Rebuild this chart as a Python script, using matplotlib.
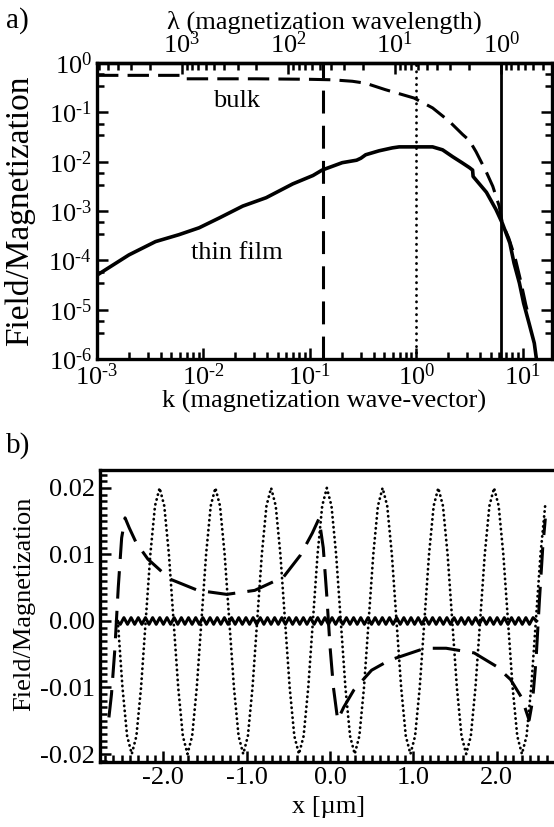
import numpy as np
import matplotlib.pyplot as plt
from matplotlib.ticker import (LogLocator, FixedLocator, FuncFormatter, MultipleLocator,
                               FormatStrFormatter, NullFormatter)

plt.rcParams['font.family'] = ['Liberation Serif', 'DejaVu Serif']
plt.rcParams['mathtext.fontset'] = 'custom'
plt.rcParams['mathtext.rm'] = 'Liberation Serif'
plt.rcParams['mathtext.default'] = 'regular'
plt.rcParams['axes.unicode_minus'] = False

# ---- panel a: field/magnetization spectra (log10 exponents)
thin_logk = [-3.0, -2.70, -2.45, -2.23, -2.04, -1.85, -1.63, -1.41, -1.16, -0.97,
             -0.884, -0.695, -0.56, -0.52, -0.475, -0.35, -0.224, -0.16, 0.154, 0.248,
             0.343, 0.43, 0.50, 0.53, 0.535, 0.66, 0.75, 0.81, 0.88, 0.92,
             0.97, 1.01, 1.06, 1.11, 1.13]
thin_logv = [-4.30, -3.89, -3.62, -3.48, -3.34, -3.14, -2.90, -2.73, -2.45, -2.28,
             -2.17, -2.02, -1.97, -1.93, -1.86, -1.78, -1.72, -1.70, -1.70, -1.76,
             -1.90, -2.02, -2.12, -2.17, -2.30, -2.62, -2.97, -3.25, -3.65, -4.06,
             -4.46, -4.87, -5.27, -5.68, -6.0]
bulk_logk = [-3.0, -2.19, -2.17, -1.5, -1.0, -0.79, -0.6, -0.475, -0.29, -0.02,
             0.154, 0.31, 0.437, 0.50, 0.563, 0.657, 0.72, 0.78, 0.81, 0.87,
             0.93, 0.98, 1.03, 1.06]
bulk_logv = [-0.25, -0.25, -0.32, -0.32, -0.33, -0.34, -0.37, -0.41, -0.54, -0.71,
             -0.91, -1.18, -1.45, -1.57, -1.80, -2.20, -2.50, -2.90, -3.25, -3.55,
             -3.95, -4.40, -4.90, -5.15]
k_marks = [0.132, 0.99, 6.28]   # dashed, dotted, solid verticals
lam_ticks = [1, 10, 100, 1000]

# ---- panel b: field profiles across the film
dash_x = [-2.654, -2.623, -2.583, -2.542, -2.501, -2.46, -2.41, -2.328, -2.186, -1.921,
          -1.586, -1.24, -0.904, -0.559, -0.355, -0.213, -0.132, -0.081, -0.04, 0.001,
          0.041, 0.092, 0.163, 0.285, 0.499, 0.713, 1.14, 1.394, 1.73, 1.994,
          2.167, 2.299, 2.39, 2.431, 2.472, 2.513, 2.553, 2.584]
dash_y = [-0.0145, -0.0110, -0.0043, 0.0050, 0.0125, 0.0155, 0.0140, 0.0118, 0.0093, 0.0063,
          0.0046, 0.0040, 0.0046, 0.0066, 0.0099, 0.0132, 0.0154, 0.0110, 0.0040, -0.0040,
          -0.0100, -0.0149, -0.0130, -0.0104, -0.0074, -0.0059, -0.0041, -0.0041, -0.0048, -0.0068,
          -0.0088, -0.0115, -0.0149, -0.0120, -0.0060, 0.0030, 0.0110, 0.0154]

# dotted curve, sampled every 1/12 of its period between x = -2.547 and 2.582 (units 1e-4)
dot_range = (-2.547, 2.582)
dot_y = [0, -100, -173, -200, -173, -100, 0, 100, 173, 200, 173, 100,
         0, -100, -173, -200, -173, -100, 0, 100, 173, 200, 173, 100,
         0, -100, -173, -200, -173, -100, 0, 100, 173, 200, 173, 100,
         0, -100, -173, -200, -173, -100, 0, 100, 173, 200, 173, 100,
         0, -100, -173, -200, -173, -100, 0, 100, 173, 200, 173, 100,
         0, -100, -173, -200, -173, -100, 0, 100, 173, 200, 173, 100,
         0, -100, -173, -200, -173, -100, 0, 100, 173, 200, 173, 100,
         0, -100, -173, -200, -173, -100, 0, 100, 173]

# solid ripple, extrema between x = -2.56 and 2.48 (units 1e-4)
wig_range = (-2.56, 2.48)
wig_y = [0, -5, 5, -5, 5, -5, 5, -5, 5, -5, 5, -5, 5, -5, 5, -5, 5, -5, 5, -5,
         5, -5, 5, -5, 5, -5, 5, -5, 5, -5, 5, -5, 5, -5, 5, -5, 5, -5, 5, -5,
         5, -5, 5, -5, 5, -5, 5, -5, 5, -5, 5, -5, 5, -5, 5, -5, 5, -5, 5, -5,
         5, -5, 5, -5, 5, -5, 5, -5, 5, -5, 5, -5, 5, -5, 5, -5, 5, -5, 5, -5,
         5, -5, 5, -5, 5, -5, 5, -5, 5, -5, 5, -5, 5, -5, 5, -5, 5, -5, 5, -5,
         5, -5, 5, -5, 5, -5, 5, -5, 5, -5, 5, -5, 5, -5, 5, -5, 5, 0]


def pow10(v, pos):
    e = int(round(np.log10(v)))
    if e < 0:
        return r'$10^{\text{-}%d}$' % (-e)
    return r'$10^{%d}$' % e


def k_to_lam(k):
    k = np.asarray(k, dtype=float)
    with np.errstate(divide='ignore'):
        return 2 * np.pi / k


fig = plt.figure(figsize=(5.54, 8.27), dpi=100)
fs = 19
tick_kw = dict(direction='in', width=1.8, labelsize=fs, pad=3.5)

# ---------------- a)
ax1 = fig.add_axes([0.1751, 0.5659, 0.8213, 0.3579])
ax1.plot(10.0 ** np.array(thin_logk), 10.0 ** np.array(thin_logv), color='black', lw=2.6)
ax1.plot(10.0 ** np.array(bulk_logk), 10.0 ** np.array(bulk_logv), color='black', lw=2.2,
         ls=(0, (7, 3)))
ax1.axvline(k_marks[0], color='black', lw=2.2, ls=(0, (7.5, 4)))
ax1.axvline(k_marks[1], color='black', lw=2.0, ls=(0, (0.1, 2.2)), dash_capstyle='round')
ax1.axvline(k_marks[2], color='black', lw=2.0)
ax1.set_xscale('log')
ax1.set_yscale('log')
ax1.set_xlim(1e-3, 18.9)
ax1.set_ylim(1e-6, 1)
ax1.xaxis.set_major_locator(LogLocator(base=10, numticks=12))
ax1.xaxis.set_minor_locator(LogLocator(base=10, subs=np.arange(2, 10), numticks=40))
ax1.xaxis.set_major_formatter(FuncFormatter(pow10))
ax1.xaxis.set_minor_formatter(NullFormatter())
ax1.yaxis.set_major_locator(LogLocator(base=10, numticks=12))
ax1.yaxis.set_minor_locator(LogLocator(base=10, subs=(3.4, 5.9), numticks=40))
ax1.yaxis.set_major_formatter(FuncFormatter(pow10))
ax1.yaxis.set_minor_formatter(NullFormatter())
ax1.tick_params(which='both', left=True, right=True, top=False, bottom=True, **tick_kw)
ax1.tick_params(which='major', length=8)
ax1.tick_params(which='minor', length=5)
for s in ax1.spines.values():
    s.set_linewidth(2.4)
ax1.set_xlabel('k (magnetization wave-vector)', fontsize=fs, labelpad=0)
ax1.set_ylabel('Field/Magnetization', fontsize=24)
ax1.yaxis.set_label_coords(-0.135, 0.5)
ax1.text(10 ** -1.69, 10 ** -0.78, 'bulk', ha='center', va='center', fontsize=fs)
ax1.text(10 ** -1.69, 10 ** -3.85, 'thin film', ha='center', va='center', fontsize=fs)

sec = ax1.secondary_xaxis('top', functions=(k_to_lam, k_to_lam))
sec.xaxis.set_major_locator(FixedLocator(lam_ticks))
sec.xaxis.set_minor_locator(LogLocator(base=10, subs=np.arange(2, 10), numticks=40))
sec.xaxis.set_major_formatter(FuncFormatter(pow10))
sec.xaxis.set_minor_formatter(NullFormatter())
sec.tick_params(which='both', **tick_kw)
sec.tick_params(which='major', length=8)
sec.tick_params(which='minor', length=5)
sec.spines['top'].set_linewidth(2.4)
sec.set_xlabel('λ (magnetization wavelength)', fontsize=fs, labelpad=2)

# ---------------- b)
ax2 = fig.add_axes([0.1805, 0.0786, 0.825, 0.3531])
dot_x = np.linspace(dot_range[0], dot_range[1], len(dot_y))
wig_x = np.linspace(wig_range[0], wig_range[1], len(wig_y))
ax2.plot(dot_x, np.array(dot_y) * 1e-4, color='black', lw=2.0, ls=(0, (0.1, 1.7)),
         dash_capstyle='round')
ax2.plot(dash_x, dash_y, color='black', lw=2.2, ls=(0, (9, 4)))
ax2.plot(wig_x, np.array(wig_y) * 1e-4, color='black', lw=2.2)
ax2.set_xlim(-2.761, 2.725)
ax2.set_ylim(-0.0212, 0.0227)
ax2.xaxis.set_major_locator(MultipleLocator(1.0))
ax2.xaxis.set_minor_locator(MultipleLocator(0.1))
ax2.xaxis.set_major_formatter(FormatStrFormatter('%.1f'))
ax2.yaxis.set_major_locator(MultipleLocator(0.01))
ax2.yaxis.set_minor_locator(MultipleLocator(0.001))
ax2.yaxis.set_major_formatter(FormatStrFormatter('%.2f'))
ax2.tick_params(which='both', left=True, right=False, top=False, bottom=True, **tick_kw)
ax2.tick_params(which='major', length=8)
ax2.tick_params(which='minor', length=5)
for s in ax2.spines.values():
    s.set_linewidth(2.4)
ax2.set_xlabel('x [µm]', fontsize=fs, labelpad=5)
ax2.set_ylabel('Field/Magnetization', fontsize=fs)
ax2.yaxis.set_label_coords(-0.142, 0.54)

fig.text(0.010, 0.992, 'a)', ha='left', va='top', fontsize=21)
fig.text(0.010, 0.478, 'b)', ha='left', va='top', fontsize=21)

fig.savefig('out.png', dpi=100)
